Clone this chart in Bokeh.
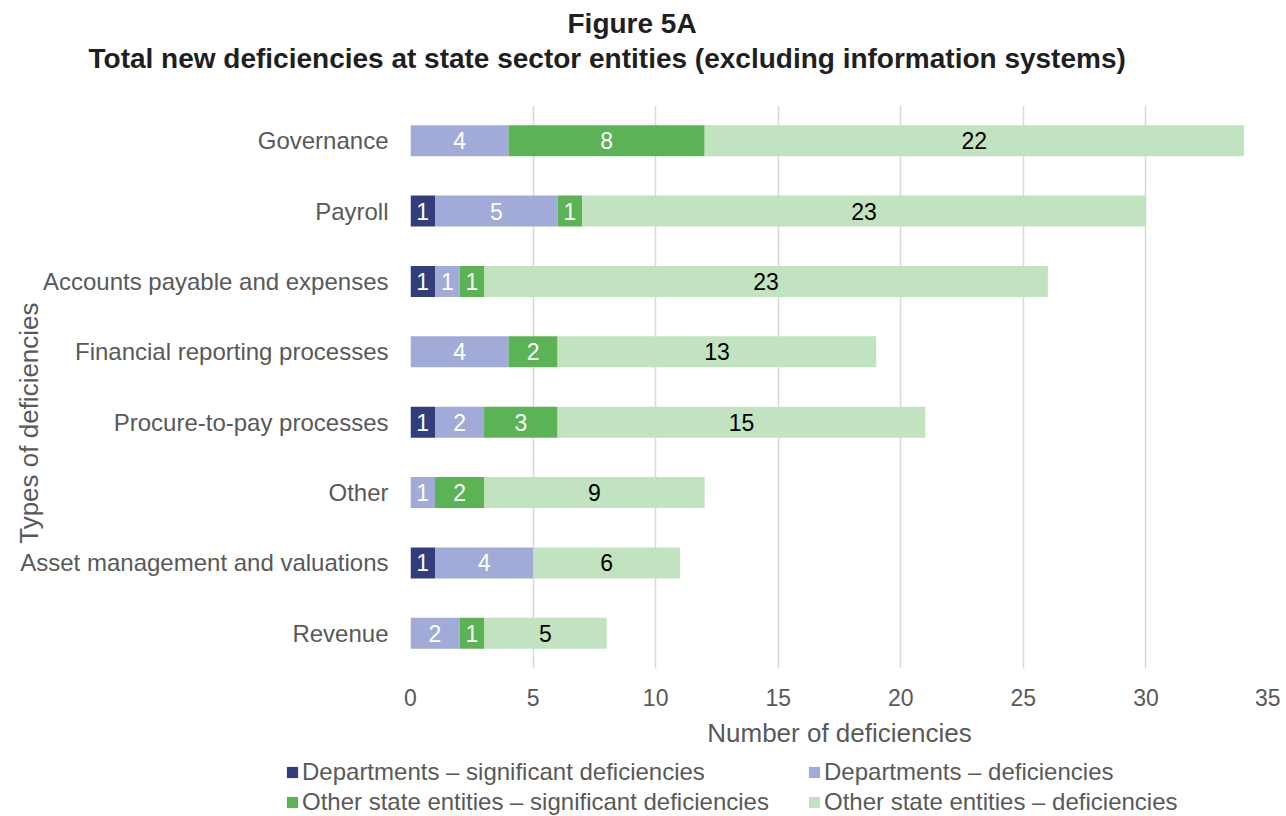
import math
from bokeh.plotting import figure
from bokeh.models import (ColumnDataSource, FactorRange, Range1d, Legend, LegendItem,
                          LabelSet, Title, FixedTicker)
from bokeh.core.properties import value
from bokeh.embed import file_html
from bokeh.resources import INLINE

# ---- data ----
categories = ["Governance", "Payroll", "Accounts payable and expenses",
              "Financial reporting processes", "Procure-to-pay processes", "Other",
              "Asset management and valuations", "Revenue"]
dept_significant = [0, 1, 1, 0, 1, 0, 1, 0]
dept_deficiencies = [4, 5, 1, 4, 2, 1, 4, 2]
other_significant = [8, 1, 1, 2, 3, 2, 0, 1]
other_deficiencies = [22, 23, 23, 13, 15, 9, 6, 5]
series_names = ["Departments \u2013 significant deficiencies",
                "Departments \u2013 deficiencies",
                "Other state entities \u2013 significant deficiencies",
                "Other state entities \u2013 deficiencies"]
x_ticks = [0, 5, 10, 15, 20, 25, 30, 35]

# ---- styles ----
FONT = "Liberation Sans"
GREY = "#595959"
colors = ["#323E7C", "#A2ABD7", "#5CB356", "#C2E3BF"]
label_colors = ["white", "white", "white", "black"]

series = [dept_significant, dept_deficiencies, other_significant, other_deficiencies]
keys = ["s0", "s1", "s2", "s3"]
src = ColumnDataSource(dict(cat=categories, **{k: v for k, v in zip(keys, series)}))

W = 1280
p = figure(width=W, height=754, output_backend="svg", toolbar_location=None,
           title=None,
           y_range=FactorRange(factors=list(reversed(categories))),
           x_range=Range1d(0, 35),
           min_border_left=410, min_border_right=12, min_border_top=105,
           min_border_bottom=86)
p.outline_line_color = None
p.background_fill_color = "white"

renderers = p.hbar_stack(keys, y="cat", height=0.44, source=src,
                         fill_color=colors, line_color=None)

# data labels
lx, ly, lt, lc = [], [], [], []
for i, cat in enumerate(categories):
    left = 0
    for j, s in enumerate(series):
        v = s[i]
        if v > 0:
            lx.append(left + v / 2)
            ly.append(cat)
            lt.append(str(v))
            lc.append(label_colors[j])
        left += v
lab_src = ColumnDataSource(dict(x=lx, y=ly, t=lt, c=lc))
p.add_layout(LabelSet(x="x", y="y", text="t", source=lab_src, text_color="c",
                      text_align="center", text_baseline="middle",
                      text_font=value(FONT), text_font_size="23px"))

# axes
p.xaxis.ticker = FixedTicker(ticks=x_ticks)
p.xaxis.axis_label = "Number of deficiencies"
p.yaxis.axis_label = "Types of deficiencies" + "\u00a0" * 10
for ax in (p.xaxis, p.yaxis):
    ax.axis_line_color = None
    ax.major_tick_line_color = None
    ax.minor_tick_line_color = None
    ax.major_label_text_color = GREY
    ax.major_label_text_font = FONT
    ax.axis_label_text_font = FONT
    ax.axis_label_text_font_style = "normal"
    ax.axis_label_text_color = GREY
    ax.axis_label_text_font_size = "26px"
p.xaxis.major_label_text_font_size = "23px"
p.xaxis.major_label_standoff = 14
p.xaxis.axis_label_standoff = 9
p.yaxis.major_label_text_font_size = "24px"
p.yaxis.major_label_standoff = 16
p.yaxis.axis_label_standoff = -27

p.xgrid.grid_line_color = "#D9D9D9"
p.xgrid.grid_line_width = 1.5
p.ygrid.grid_line_color = None

# titles (stacked outward from the plot area)
spacer = Title(text=" ", text_font_size="20px", standoff=6)
t2 = Title(text="Total new deficiencies at state sector entities (excluding information systems)",
           align="left", offset=-322, standoff=4, text_font=FONT,
           text_font_size="28px", text_font_style="bold", text_color="#1F1F1F")
t1 = Title(text="Figure 5A", align="left", offset=157, standoff=0, text_font=FONT,
           text_font_size="28px", text_font_style="bold", text_color="#1F1F1F")
p.add_layout(spacer, "above")
p.add_layout(t2, "above")
p.add_layout(t1, "above")

# legend strip below the chart (separate root so its frame spans the full width)
LH = 62
pl = figure(width=W, height=LH, output_backend="svg", toolbar_location=None,
            title=None, x_range=Range1d(0, 1), y_range=Range1d(0, 1),
            x_axis_location=None, y_axis_location=None,
            min_border_left=0, min_border_right=0, min_border_top=0, min_border_bottom=0)
pl.outline_line_color = None
pl.grid.visible = False
# zero-size proxy glyphs that only supply the legend swatch colours
swatches = [pl.hbar(y=[0], left=[0], right=[0], height=0, fill_color=c, line_color=None)
            for c in colors]

def make_legend(idx, vy):
    return Legend(items=[LegendItem(label=series_names[k], renderers=[swatches[k]]) for k in idx],
                  location=(285, vy), orientation="horizontal",
                  border_line_color=None, background_fill_alpha=0, padding=0, margin=0,
                  spacing=10, glyph_width=14, glyph_height=14, label_standoff=3,
                  label_width=495, label_height=22, label_text_font=FONT,
                  label_text_font_size="24px", label_text_color=GREY)

pl.add_layout(make_legend([0, 1], 30))
pl.add_layout(make_legend([2, 3], 0))

open("out.html", "w").write(file_html([p, pl], INLINE))
